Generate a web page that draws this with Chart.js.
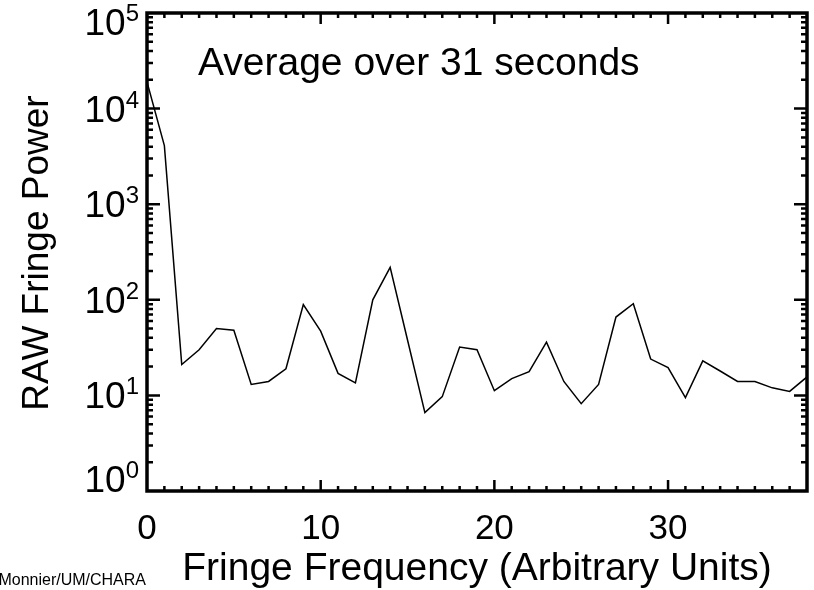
<!DOCTYPE html>
<html>
<head>
<meta charset="utf-8">
<script src="https://cdn.jsdelivr.net/npm/chart.js@4.4.1/dist/chart.umd.min.js"></script>
<style>
  html, body { margin: 0; padding: 0; background: #fff; }
  canvas { display: block; }
</style>
</head>
<body>
<canvas id="fringe" width="814" height="590"></canvas>
<script>
// fringe power spectrum
const freq = [0, 1, 2, 3, 4, 5, 6, 7, 8, 9, 10, 11, 12, 13, 14, 15, 16, 17, 18, 19,
              20, 21, 22, 23, 24, 25, 26, 27, 28, 29, 30, 31, 32, 33, 34, 35, 36, 37, 38];
const power = [19000, 4100, 21, 30, 50, 48, 13, 14, 19, 89, 47, 17, 13.5, 100, 218, 38, 6.6, 9.7, 32, 30,
               11.2, 15, 17.7, 36, 14, 8.2, 13, 66, 91, 24, 19.5, 9.5, 23, 18, 14, 14, 12, 11, 15.6];
const xTicks = [0, 10, 20, 30];
const yDecades = [0, 1, 2, 3, 4, 5];
const annotation = 'Average over 31 seconds';
const xTitle = 'Fringe Frequency (Arbitrary Units)';
const yTitle = 'RAW Fringe Power';
const credit = 'Monnier/UM/CHARA';

const FONT = '"Liberation Sans", Arial, Helvetica, sans-serif';

// IDL-style frame: thick box, inward ticks on all four sides, 10^n labels
const idlFrame = {
    id: 'idlFrame',
    afterDraw(chart) {
        const ctx = chart.ctx;
        const a = chart.chartArea;
        const xs = chart.scales.x;
        const ys = chart.scales.y;
        ctx.save();
        ctx.strokeStyle = '#000';
        ctx.fillStyle = '#000';

        // x ticks (every unit, major every 10)
        ctx.lineWidth = 2.5;
        ctx.beginPath();
        for (let v = 1; v < 38; v++) {
            const px = xs.getPixelForValue(v);
            const len = v % 10 === 0 ? 11 : 5;
            ctx.moveTo(px, a.bottom); ctx.lineTo(px, a.bottom - len);
            ctx.moveTo(px, a.top); ctx.lineTo(px, a.top + len);
        }
        // y ticks (decades + 2..9)
        for (let d = 0; d < 5; d++) {
            for (let m = 1; m < 10; m++) {
                const val = m * Math.pow(10, d);
                if (val === 1) continue;
                const py = ys.getPixelForValue(val);
                const len = m === 1 ? 13 : 6;
                ctx.moveTo(a.left, py); ctx.lineTo(a.left + len, py);
                ctx.moveTo(a.right, py); ctx.lineTo(a.right - len, py);
            }
        }
        ctx.stroke();

        // frame
        ctx.lineWidth = 3.5;
        ctx.strokeRect(a.left, a.top, a.right - a.left, a.bottom - a.top);

        // x tick labels
        ctx.font = '35px ' + FONT;
        ctx.textAlign = 'center';
        ctx.textBaseline = 'alphabetic';
        xTicks.forEach(v => ctx.fillText(String(v), xs.getPixelForValue(v), 539));

        // y tick labels as 10 with superscript exponent
        yDecades.forEach(d => {
            let py = ys.getPixelForValue(Math.pow(10, d));
            if (d === 0) py -= 12;      // lifted off the x labels, like IDL does
            if (d === 5) py += 9;       // pushed down so it stays on the page
            const base = py + 13;
            ctx.font = '24px ' + FONT;
            ctx.textAlign = 'right';
            const supW = ctx.measureText(String(d)).width;
            const right = a.left - 8;
            ctx.fillText(String(d), right, base - 14);
            ctx.font = '37px ' + FONT;
            ctx.fillText('10', right - supW, base);
        });

        // annotation inside the box
        ctx.font = '39px ' + FONT;
        ctx.textAlign = 'left';
        ctx.fillText(annotation, 198, 75);

        // axis titles
        ctx.font = '39px ' + FONT;
        ctx.textAlign = 'center';
        ctx.fillText(xTitle, 477, 580);

        ctx.save();
        ctx.translate(48, 253);
        ctx.rotate(-Math.PI / 2);
        ctx.font = '37px ' + FONT;
        ctx.fillText(yTitle, 0, 0);
        ctx.restore();

        // credit line, cut at the left edge
        ctx.font = '16px ' + FONT;
        ctx.textAlign = 'right';
        ctx.fillText(credit, 146, 585);

        ctx.restore();
    }
};

new Chart(document.getElementById('fringe'), {
    type: 'line',
    data: {
        datasets: [{
            data: freq.map((f, i) => ({ x: f, y: power[i] })),
            borderColor: '#000',
            borderWidth: 1.5,
            pointRadius: 0,
            tension: 0,
            fill: false
        }]
    },
    options: {
        responsive: false,
        animation: false,
        devicePixelRatio: 1,
        layout: { padding: { left: 147, right: 7, top: 13, bottom: 99 } },
        plugins: { legend: { display: false }, tooltip: { enabled: false } },
        scales: {
            x: { type: 'linear', min: 0, max: 38, display: false },
            y: { type: 'logarithmic', min: 1, max: 100000, display: false }
        }
    },
    plugins: [idlFrame]
});
</script>
</body>
</html>
